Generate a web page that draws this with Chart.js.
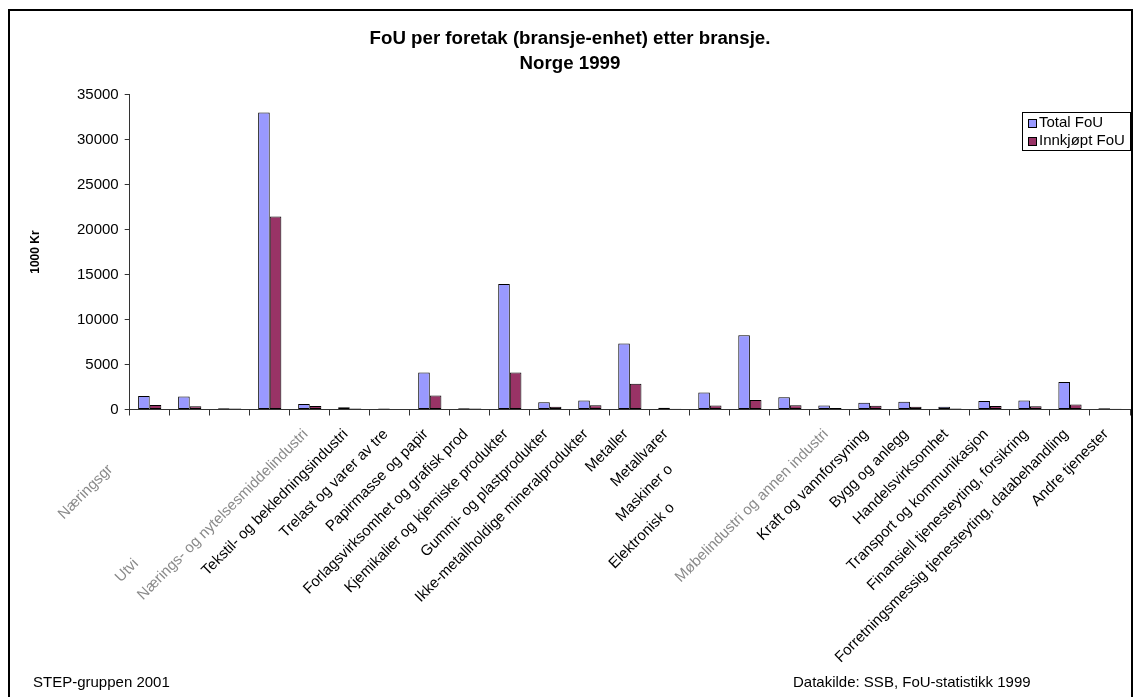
<!DOCTYPE html>
<html>
<head>
<meta charset="utf-8">
<script src="https://cdn.jsdelivr.net/npm/chart.js"></script>
<style>
  html, body { margin: 0; padding: 0; background: #fff; }
  #wrap { width: 1134px; height: 697px; }
</style>
</head>
<body>
<div id="wrap"><canvas id="fouChart" width="1134" height="697"></canvas></div>
<script>
// bransjer (some labels in the original are blurred / cut off)
var categories = [
  "Næringsgr", "", "", "Utvi",
  "Nærings- og nytelsesmiddelindustri",
  "Tekstil- og bekledningsindustri",
  "Trelast og varer av tre",
  "Papirmasse og papir",
  "Forlagsvirksomhet og grafisk prod",
  "Kjemikalier og kjemiske produkter",
  "Gummi- og plastprodukter",
  "Ikke-metallholdige mineralprodukter",
  "Metaller",
  "Metallvarer",
  "Maskiner o",
  "Elektronisk o",
  "",
  "Møbelindustri og annen industri",
  "Kraft og vannforsyning",
  "Bygg og anlegg",
  "Handelsvirksomhet",
  "Transport og kommunikasjon",
  "Finansiell tjenesteyting, forsikring",
  "Forretningsmessig tjenesteyting, databehandling",
  "Andre tjenester"
];
var totalFoU = [1500, 1450, 150, 33000, 600, 250, 100, 4100, 150, 13950, 800, 1000,
                7350, 200, 1900, 8250, 1350, 450, 750, 850, 300, 950, 1000, 3050, 150];
var innkjoptFoU = [500, 350, 100, 21450, 400, 100, 60, 1550, 100, 4100, 300, 480,
                   2850, 80, 450, 1050, 480, 180, 420, 300, 120, 380, 350, 550, 80];
var yTicks = [0, 5000, 10000, 15000, 20000, 25000, 30000, 35000];

var seriesNames = ["Total FoU", "Innkjøpt FoU"];
var titleLines = ["FoU per foretak (bransje-enhet) etter bransje.", "Norge 1999"];
var yTitle = "1000 Kr";
var footLeft = "STEP-gruppen 2001";
var footRight = "Datakilde: SSB, FoU-statistikk 1999";

// labels that are only partly visible: trailing spaces push the visible part down the slope
var labelPad = [12, 0, 0, 44, 0, 0, 0, 0, 0, 0, 0, 0, 0, 0, 12, 25, 0, 0, 0, 0, 0, 0, 0, 0, 0];
var blurred = [0, 3, 4, 17];

var FONT = '"Liberation Sans", Arial, Helvetica, sans-serif';
Chart.defaults.font.family = FONT;
Chart.defaults.color = '#000';

var decor = {
  id: 'decor',
  afterDraw: function(chart) {
    var ctx = chart.ctx;
    ctx.save();
    // frame
    ctx.strokeStyle = '#000';
    ctx.lineWidth = 2;
    ctx.beginPath();
    ctx.moveTo(9, 700);
    ctx.lineTo(9, 10);
    ctx.lineTo(1132, 10);
    ctx.lineTo(1132, 700);
    ctx.stroke();

    // legend box
    var lx = 1022, ly = 112, lw = 108, lh = 38;
    ctx.fillStyle = '#fff';
    ctx.fillRect(lx, ly, lw, lh);
    ctx.lineWidth = 1;
    ctx.strokeStyle = '#000';
    ctx.strokeRect(lx + 0.5, ly + 0.5, lw, lh);
    ctx.font = '15px ' + FONT;
    ctx.textBaseline = 'middle';
    chart.data.datasets.forEach(function(ds, i) {
      var cy = ly + 11 + i * 18;
      ctx.fillStyle = ds.backgroundColor;
      ctx.fillRect(lx + 6, cy - 4, 9, 9);
      ctx.strokeRect(lx + 6.5, cy - 3.5, 8, 8);
      ctx.fillStyle = '#000';
      ctx.fillText(ds.label, lx + 17, cy);
    });

    // footers
    ctx.font = '15px ' + FONT;
    ctx.fillStyle = '#000';
    ctx.fillText(footLeft, 33, 683);
    ctx.fillText(footRight, 793, 683);
    ctx.restore();
  }
};

var ctx1 = document.getElementById('fouChart').getContext('2d');
var fouChart = new Chart(ctx1, {
  type: 'bar',
  data: {
    labels: categories,
    datasets: [{
      label: seriesNames[0],
      data: totalFoU,
      backgroundColor: '#9999FF',
      borderColor: '#000',
      borderWidth: 1,
      borderSkipped: false,
      categoryPercentage: 0.58,
      barPercentage: 1.0
    }, {
      label: seriesNames[1],
      data: innkjoptFoU,
      backgroundColor: '#993366',
      borderColor: '#000',
      borderWidth: 1,
      borderSkipped: false,
      categoryPercentage: 0.58,
      barPercentage: 1.0
    }]
  },
  options: {
    responsive: false,
    animation: false,
    devicePixelRatio: 1,
    layout: { padding: { top: 10, left: 10, right: 4, bottom: 0 } },
    plugins: {
      legend: { display: false },
      tooltip: { enabled: false },
      title: {
        display: true,
        text: titleLines,
        color: '#000',
        font: { size: 18.7, weight: 'bold', lineHeight: 1.3 },
        padding: { top: 17, bottom: 19 }
      }
    },
    scales: {
      x: {
        grid: { drawOnChartArea: false, tickLength: 6, color: '#333', offset: true },
        border: { color: '#333', width: 1 },
        ticks: {
          autoSkip: false,
          maxRotation: 45,
          minRotation: 45,
          padding: 10,
          labelOffset: -4,
          font: { size: 15 },
          color: function(c) { return blurred.indexOf(c.index) >= 0 ? '#8a8a8a' : '#000'; },
          callback: function(v, i) { return categories[i] + '\u00a0'.repeat(labelPad[i]); }
        },
        afterFit: function(s) { s.height = 287.5; }
      },
      y: {
        min: 0,
        max: 35000,
        afterBuildTicks: function(s) { s.ticks = yTicks.map(function(v) { return { value: v }; }); },
        grid: { drawOnChartArea: false, tickLength: 5, color: '#333' },
        border: { color: '#333', width: 1 },
        ticks: {
          padding: 6,
          font: { size: 15 },
          color: '#000',
          callback: function(v) { return String(v); }
        },
        title: {
          display: true,
          text: yTitle,
          color: '#000',
          font: { size: 12, weight: 'bold' },
          padding: { top: 18, bottom: 0 }
        },
        afterFit: function(s) { s.width = 119.7; }
      }
    }
  },
  plugins: [decor]
});
</script>
</body>
</html>
